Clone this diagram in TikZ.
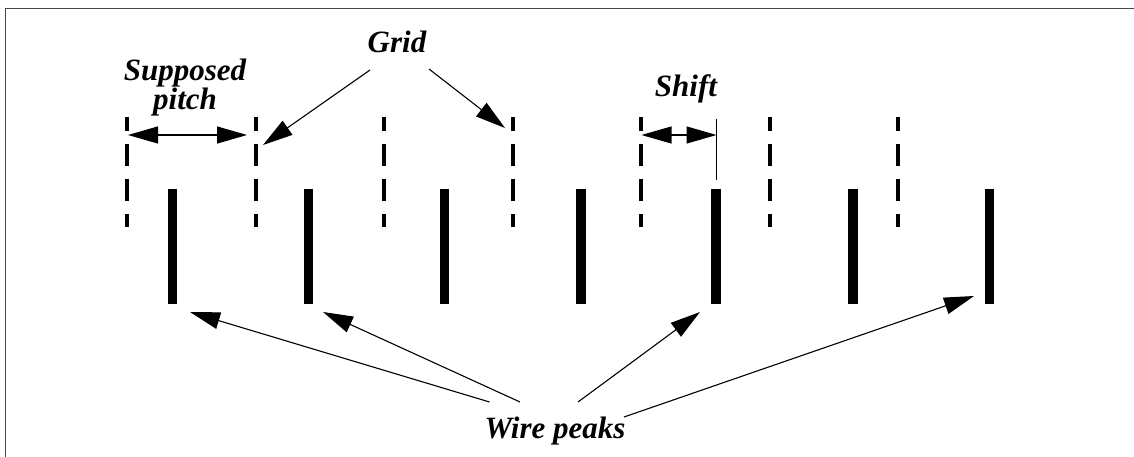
\documentclass[tikz,border=0pt]{standalone}
\usepackage{fontspec}
\setmainfont{Liberation Serif}
\usetikzlibrary{arrows.meta}
\tikzset{
  lbl/.style={font=\fontsize{31}{31}\selectfont\bfseries\itshape, inner sep=0pt, anchor=base},
  gridline/.style={line width=4pt, dash pattern=on 22pt off 13pt, dash phase=8pt},
  wire/.style={line width=9.5pt},
  pointer/.style={line width=1.1pt, -{Triangle[length=30pt,width=17pt]}},
  dbl/.style={line width=1.1pt, {Triangle[length=30pt,width=17pt]}-{Triangle[length=30pt,width=17pt]}},
  frame/.style={line width=1.6pt, draw=black!72}
}
\begin{document}
\begin{tikzpicture}[x=1pt,y=-1pt]
\useasboundingbox (0,0) rectangle (1134,457);
% frame (top and left edges)
\draw[frame] (5.5,457) -- (5.5,8.5) -- (1134,8.5);
% grid lines
\foreach \i/\x in {1/127,2/255.5,3/384.3,4/512.5,5/641,6/769.5,7/898}{
  \coordinate (gt\i) at (\x,117);
  \coordinate (gb\i) at (\x,227);
  \draw[gridline] (gt\i) -- (gb\i);
}
% wires
\foreach \i/\x in {1/172.5,2/308.5,3/444.5,4/581,5/716,6/853,7/989.5}{
  \coordinate (wt\i) at (\x,189);
  \coordinate (wb\i) at (\x,304);
  \draw[wire] (wt\i) -- (wb\i);
}
% labels
\node[lbl] (sup) at (185,81) {Supposed};
\node[lbl] (pitch) at (185,110) {pitch};
\node[lbl] (grid) at (397,53) {Grid};
\node[lbl] (shift) at (686,97) {Shift};
\node[lbl] (peaks) at (555,438) {Wire peaks};
% supposed pitch arrow
\coordinate (pl) at (128,135);
\coordinate (pr) at (247,135);
\draw[dbl] (pl) -- (pr);
% shift
\coordinate (sl) at (641.5,135);
\coordinate (sr) at (716.5,135);
\coordinate (st) at (716.5,119);
\coordinate (sb) at (716.5,180);
\draw[line width=1.1pt] (st) -- (sb);
\draw[dbl] (sl) -- (sr);
% grid pointers
\coordinate (ga) at (370,70);
\coordinate (gb) at (429,69);
\coordinate (gat) at (263,145);
\coordinate (gbt) at (505,128);
\draw[pointer] (ga) -- (gat);
\draw[pointer] (gb) -- (gbt);
% wire peak pointers
\coordinate (p1) at (489.5,402);
\coordinate (p2) at (520,402);
\coordinate (p3) at (578,402);
\coordinate (p4) at (624,417);
\coordinate (t1) at (190,312);
\coordinate (t2) at (323,312);
\coordinate (t3) at (700,312);
\coordinate (t4) at (974,296);
\draw[pointer] (p1) -- (t1);
\draw[pointer] (p2) -- (t2);
\draw[pointer] (p3) -- (t3);
\draw[pointer] (p4) -- (t4);
\end{tikzpicture}
\end{document}
